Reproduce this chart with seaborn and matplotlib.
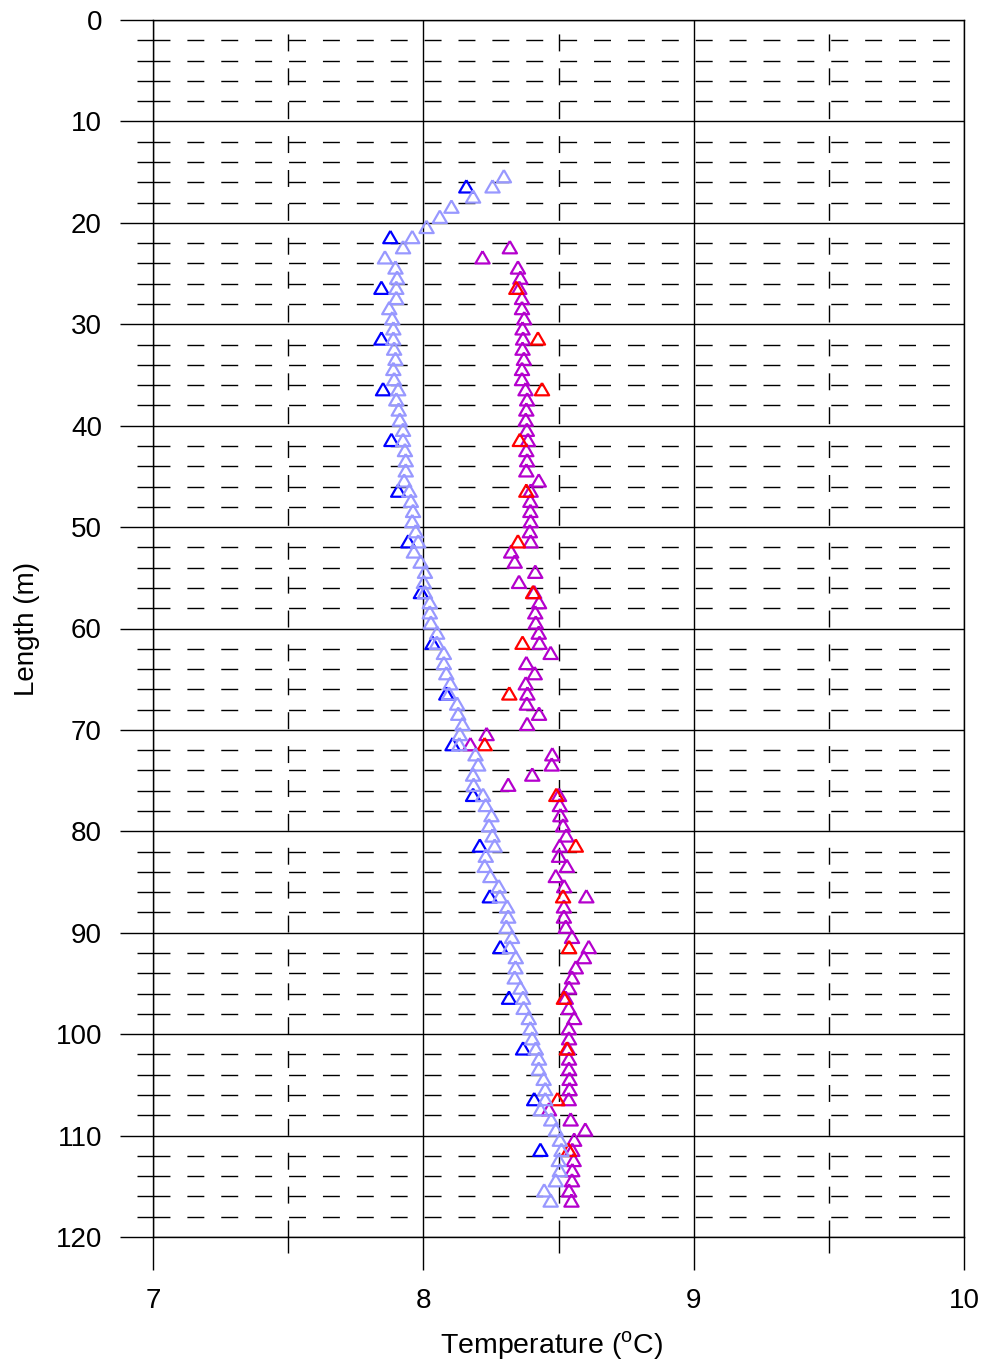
import numpy as np
import matplotlib
matplotlib.use("Agg")
import matplotlib.pyplot as plt
from matplotlib.ticker import MultipleLocator
import seaborn as sns

# ---- data: temperature profiles along the fibre (length in m, temperature in degC)
length_a = [15.4, 16.4, 17.4, 18.4, 19.4, 20.4, 21.4, 22.4, 23.4, 24.4,
            25.4, 26.4, 27.4, 28.4, 29.4, 30.4, 31.4, 32.4, 33.4, 34.4,
            35.4, 36.4, 37.4, 38.4, 39.4, 40.4, 41.4, 42.4, 43.4, 44.4,
            45.4, 46.4, 47.4, 48.4, 49.4, 50.4, 51.4, 52.4, 53.4, 54.4,
            55.4, 56.4, 57.4, 58.4, 59.4, 60.4, 61.4, 62.4, 63.4, 64.4,
            65.4, 66.4, 67.4, 68.4, 69.4, 70.4, 71.4, 72.4, 73.4, 74.4,
            75.4, 76.4, 77.4, 78.4, 79.4, 80.4, 81.4, 82.4, 83.4, 84.4,
            85.4, 86.4, 87.4, 88.4, 89.4, 90.4, 91.4, 92.4, 93.4, 94.4,
            95.4, 96.4, 97.4, 98.4, 99.4, 100.4, 101.4, 102.4, 103.4, 104.4,
            105.4, 106.4, 107.4, 108.4, 109.4, 110.4, 111.4, 112.4, 113.4, 114.4,
            115.4, 116.4]
temp_a = [8.298, 8.256, 8.184, 8.104, 8.061, 8.012, 7.959, 7.925, 7.858, 7.897,
          7.903, 7.900, 7.900, 7.874, 7.885, 7.889, 7.889, 7.892, 7.897, 7.889,
          7.892, 7.907, 7.900, 7.909, 7.913, 7.925, 7.925, 7.932, 7.935, 7.935,
          7.929, 7.948, 7.954, 7.962, 7.959, 7.972, 7.981, 7.965, 7.990, 8.006,
          8.002, 8.006, 8.024, 8.024, 8.028, 8.051, 8.050, 8.076, 8.076, 8.085,
          8.100, 8.095, 8.125, 8.129, 8.145, 8.135, 8.133, 8.193, 8.203, 8.184,
          8.186, 8.221, 8.231, 8.252, 8.243, 8.256, 8.264, 8.231, 8.227, 8.248,
          8.279, 8.283, 8.310, 8.314, 8.307, 8.328, 8.320, 8.342, 8.341, 8.338,
          8.359, 8.369, 8.371, 8.390, 8.396, 8.403, 8.416, 8.428, 8.427, 8.445,
          8.451, 8.451, 8.434, 8.473, 8.490, 8.505, 8.511, 8.501, 8.505, 8.490,
          8.447, 8.471]

length_b = [16.4, 21.4, 26.4, 31.4, 36.4, 41.4, 46.4, 51.4, 56.4, 61.4,
            66.4, 71.4, 76.4, 81.4, 86.4, 91.4, 96.4, 101.4, 106.4, 111.4]
temp_b = [8.159, 7.878, 7.845, 7.845, 7.851, 7.882, 7.907, 7.944, 7.991, 8.034,
          8.085, 8.108, 8.184, 8.209, 8.246, 8.285, 8.317, 8.369, 8.410, 8.433]

length_c = [22.4, 23.4, 24.4, 25.4, 26.4, 27.4, 28.4, 29.4, 30.4, 31.4,
            32.4, 33.4, 34.4, 35.4, 36.4, 37.4, 38.4, 39.4, 40.4, 41.4,
            42.4, 43.4, 44.4, 45.4, 46.4, 47.4, 48.4, 49.4, 50.4, 51.4,
            52.4, 53.4, 54.4, 55.4, 56.4, 57.4, 58.4, 59.4, 60.4, 61.4,
            62.4, 63.4, 64.4, 65.4, 66.4, 67.4, 68.4, 69.4, 70.4, 71.4,
            72.4, 73.4, 74.4, 75.4, 76.4, 77.4, 78.4, 79.4, 80.4, 81.4,
            82.4, 83.4, 84.4, 85.4, 86.4, 87.4, 88.4, 89.4, 90.4, 91.4,
            92.4, 93.4, 94.4, 95.4, 96.4, 97.4, 98.4, 99.4, 100.4, 101.4,
            102.4, 103.4, 104.4, 105.4, 106.4, 107.4, 108.4, 109.4, 110.4, 111.4,
            112.4, 113.4, 114.4, 115.4, 116.4]
temp_c = [8.320, 8.219, 8.350, 8.359, 8.355, 8.365, 8.365, 8.373, 8.367, 8.369,
          8.367, 8.372, 8.365, 8.365, 8.378, 8.384, 8.381, 8.379, 8.383, 8.387,
          8.381, 8.384, 8.381, 8.427, 8.397, 8.396, 8.396, 8.397, 8.394, 8.397,
          8.325, 8.338, 8.414, 8.354, 8.410, 8.428, 8.414, 8.416, 8.427, 8.430,
          8.471, 8.381, 8.412, 8.379, 8.385, 8.383, 8.428, 8.384, 8.234, 8.174,
          8.477, 8.475, 8.403, 8.314, 8.502, 8.505, 8.507, 8.517, 8.529, 8.505,
          8.502, 8.531, 8.490, 8.521, 8.603, 8.520, 8.520, 8.527, 8.550, 8.612,
          8.594, 8.564, 8.550, 8.539, 8.527, 8.538, 8.558, 8.538, 8.539, 8.535,
          8.539, 8.539, 8.541, 8.541, 8.538, 8.465, 8.545, 8.599, 8.558, 8.551,
          8.556, 8.551, 8.550, 8.539, 8.548]

length_d = [26.4, 31.4, 36.4, 41.4, 46.4, 51.4, 56.4, 61.4, 66.4, 71.4,
            76.4, 81.4, 86.4, 91.4, 96.4, 101.4, 106.4, 111.4]
temp_d = [8.344, 8.424, 8.439, 8.357, 8.381, 8.350, 8.406, 8.367, 8.318, 8.227,
          8.492, 8.564, 8.517, 8.539, 8.520, 8.531, 8.496, 8.538]

x_ticks = [7, 8, 9, 10]
y_ticks = [0, 10, 20, 30, 40, 50, 60, 70, 80, 90, 100, 110, 120]

# ---- style
sns.set_style("white")
plt.rcParams["font.family"] = ["Liberation Sans", "DejaVu Sans"]
plt.rcParams["mathtext.fontset"] = "custom"
plt.rcParams["mathtext.rm"] = "Liberation Sans"
for key in ("text.color", "axes.labelcolor", "xtick.color", "ytick.color"):
    plt.rcParams[key] = "black"

fig = plt.figure(figsize=(9.84, 13.61), dpi=100)
ax = fig.add_axes([153 / 984, 1 - 1237 / 1361, (964 - 153) / 984, (1237 - 20) / 1361])

# open, equilateral triangle marker
tri = [(0.0, 0.866), (-1.0, -0.866), (1.0, -0.866), (0.0, 0.866)]
mk = dict(marker=tri, s=105, facecolors="none", linewidth=1.6, zorder=3, ax=ax, legend=False)

sns.scatterplot(x=temp_c, y=length_c, edgecolor="#B400CD", **mk)
sns.scatterplot(x=temp_d, y=length_d, edgecolor="#FF0000", **mk)
sns.scatterplot(x=temp_b, y=length_b, edgecolor="#0000FF", **mk)
sns.scatterplot(x=temp_a, y=length_a, edgecolor="#9898FF", **mk)

ax.set_xlim(7, 10)
ax.set_ylim(120, 0)
ax.set_xticks(x_ticks)
ax.set_yticks(y_ticks)
ax.xaxis.set_minor_locator(MultipleLocator(0.5))
ax.yaxis.set_minor_locator(MultipleLocator(2))

ax.grid(which="major", color="black", linewidth=1.0, linestyle="-")
ax.grid(which="minor", color="black", linewidth=1.0, linestyle=(0, (12.2, 12.2)))
ax.set_axisbelow(True)

for s in ax.spines.values():
    s.set_visible(True)
    s.set_color("black")
    s.set_linewidth(1.0)

ax.tick_params(which="major", direction="out", length=23.8, width=1.0, color="black",
               labelsize=20, labelcolor="black", pad=13,
               bottom=True, left=True, top=False, right=False)
ax.tick_params(which="minor", direction="out", length=11.5, width=1.0, color="black",
               bottom=True, left=True, top=False, right=False)

ax.set_xlabel(r"Temperature ($^{\mathrm{o}}$C)", fontsize=20.5, color="black")
ax.set_ylabel("Length (m)", fontsize=20, labelpad=11, color="black")
ax.xaxis.set_label_coords(0.491, -0.0755)

fig.savefig("out.png", dpi=100)
